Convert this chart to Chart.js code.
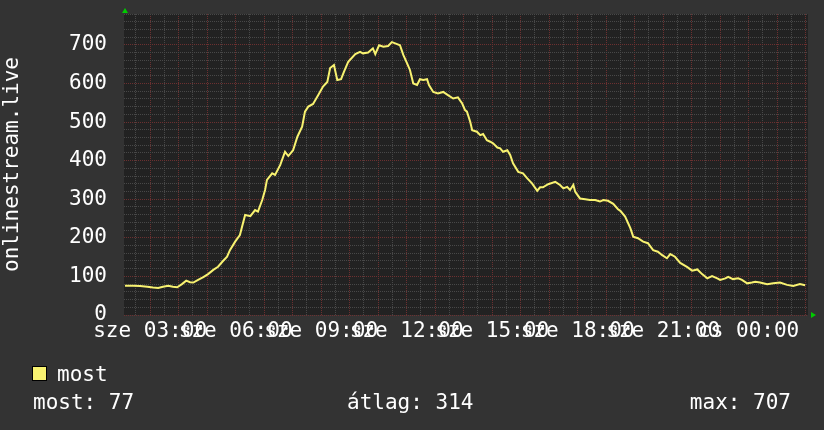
<!DOCTYPE html>
<html>
<head>
<meta charset="utf-8">
<script src="https://cdn.jsdelivr.net/npm/chart.js@4.4.1/dist/chart.umd.min.js"></script>
<style>
  html, body { margin: 0; padding: 0; background: #333333; }
  canvas { display: block; }
</style>
</head>
<body>
<canvas id="c" width="824" height="430"></canvas>
<script>
// Sample times (wall clock, the window runs past midnight) and viewer counts.
var times = [
  '02:07', '02:24', '02:39', '02:54', '03:06', '03:17', '03:27', '03:38', '03:48', '03:57',
  '04:07', '04:16', '04:24', '04:31', '04:41', '04:52', '05:02', '05:13', '05:23', '05:32',
  '05:42', '05:48', '05:59', '06:09', '06:20', '06:31', '06:41', '06:47', '06:56', '07:02',
  '07:06', '07:17', '07:23', '07:34', '07:44', '07:51', '08:01', '08:10', '08:20', '08:26',
  '08:33', '08:43', '08:54', '09:04', '09:13', '09:19', '09:27', '09:34', '09:42', '09:48',
  '09:57', '10:12', '10:22', '10:28', '10:39', '10:49', '10:54', '11:02', '11:11', '11:21',
  '11:29', '11:40', '11:46', '11:53', '12:01', '12:07', '12:14', '12:22', '12:28', '12:35',
  '12:43', '12:47', '12:56', '13:06', '13:17', '13:27', '13:38', '13:48', '13:57', '14:03',
  '14:07', '14:14', '14:18', '14:28', '14:35', '14:41', '14:49', '14:56', '15:02', '15:11',
  '15:17', '15:23', '15:32', '15:38', '15:44', '15:55', '16:05', '16:14', '16:24', '16:35',
  '16:41', '16:47', '16:58', '17:13', '17:23', '17:30', '17:38', '17:44', '17:51', '17:55',
  '18:05', '18:16', '18:26', '18:37', '18:47', '18:54', '19:04', '19:15', '19:25', '19:30',
  '19:40', '19:51', '19:57', '20:07', '20:18', '20:28', '20:39', '20:49', '20:58', '21:08',
  '21:15', '21:25', '21:36', '21:51', '22:01', '22:12', '22:22', '22:33', '22:43', '22:54',
  '23:00', '23:11', '23:17', '23:27', '23:38', '23:46', '23:57', '00:07', '00:14', '00:24',
  '00:39', '00:52', '01:06', '01:21', '01:34', '01:48', '01:59'
];
var viewers = [
  76, 76, 75, 73, 71, 70, 73, 76, 73, 72,
  80, 89, 85, 84, 91, 98, 106, 117, 125, 138,
  151, 168, 190, 207, 259, 256, 272, 268, 298, 324,
  350, 367, 363, 389, 423, 412, 427, 462, 488, 527,
  540, 547, 570, 592, 604, 640, 648, 609, 611, 630,
  656, 676, 682, 678, 680, 691, 676, 699, 695, 697,
  707, 702, 699, 674, 652, 635, 600, 596, 611, 609,
  611, 596, 578, 574, 578, 570, 561, 564, 548, 531,
  527, 500, 479, 475, 466, 469, 453, 449, 445, 434,
  432, 423, 427, 415, 393, 371, 367, 354, 341, 322,
  331, 331, 339, 345, 337, 328, 332, 324, 337, 319,
  302, 300, 298, 298, 294, 298, 296, 288, 274, 270,
  255, 225, 203, 199, 190, 186, 168, 164, 155, 147,
  158, 151, 135, 124, 115, 118, 106, 95, 101, 95,
  91, 95, 99, 93, 95, 91, 82, 84, 86, 84,
  80, 82, 84, 78, 75, 80, 77
];

// x axis labels (hour of the window -> text)
var xLabelHours = [3, 6, 9, 12, 15, 18, 21, 24];
var xLabels = ['sze 03:00', 'sze 06:00', 'sze 09:00', 'sze 12:00', 'sze 15:00', 'sze 18:00', 'sze 21:00', 'cs 00:00'];

// legend rows as printed under the graph
var seriesName = 'most';
var statLabels = ['most: 77', 'átlag: 314', 'max: 707'];

var viewStart = 2 + 5 / 60;
var viewEnd = viewStart + 24;
var yMax = 780;

var FONT = { family: 'DejaVu Sans Mono', size: 21 };
var MAJOR = '#6c3030';
var MINOR = '#484848';
var LINE = '#f8f270';

function toHours(t) {
  var p = t.split(':');
  var h = Number(p[0]) + Number(p[1]) / 60;
  if (h < 2) h += 24;  // after midnight
  return h;
}

var points = times.map(function (t, i) {
  return { x: toHours(t), y: viewers[i] };
});

var plotBg = {
  id: 'plotBg',
  beforeDraw: function (chart) {
    var a = chart.chartArea, ctx = chart.ctx;
    ctx.save();
    ctx.fillStyle = '#222222';
    ctx.fillRect(a.left, a.top, a.right - a.left, a.bottom - a.top);
    ctx.restore();
  }
};

var rrdExtras = {
  id: 'rrdExtras',
  afterDraw: function (chart) {
    var a = chart.chartArea, ctx = chart.ctx;
    ctx.save();
    // axis arrows
    ctx.fillStyle = '#00cc00';
    ctx.beginPath();
    ctx.moveTo(a.left + 1, a.top - 6);
    ctx.lineTo(a.left - 2, a.top - 1);
    ctx.lineTo(a.left + 4, a.top - 1);
    ctx.fill();
    ctx.beginPath();
    ctx.moveTo(a.right + 8, a.bottom);
    ctx.lineTo(a.right + 3, a.bottom - 3);
    ctx.lineTo(a.right + 3, a.bottom + 3);
    ctx.fill();

    // legend
    ctx.font = FONT.size + 'px ' + FONT.family;
    ctx.textBaseline = 'alphabetic';
    ctx.fillStyle = LINE;
    ctx.fillRect(32.5, 366.5, 14, 14);
    ctx.strokeStyle = '#000';
    ctx.lineWidth = 1;
    ctx.strokeRect(32.5, 366.5, 14, 14);
    ctx.fillStyle = '#ffffff';
    ctx.fillText(seriesName, 57, 381);
    ctx.textAlign = 'left';
    ctx.fillText(statLabels[0], 33, 409);
    ctx.fillText(statLabels[1], 347, 409);
    ctx.textAlign = 'right';
    ctx.fillText(statLabels[2], 791, 409);
    ctx.restore();
  }
};

new Chart(document.getElementById('c'), {
  type: 'line',
  data: {
    datasets: [{
      label: seriesName,
      data: points,
      borderColor: LINE,
      borderWidth: 2,
      pointRadius: 0,
      tension: 0,
      fill: false
    }]
  },
  options: {
    responsive: false,
    animation: false,
    devicePixelRatio: 1,
    layout: { padding: { top: 14, right: 16, bottom: 85, left: 0 } },
    plugins: { legend: { display: false }, tooltip: { enabled: false } },
    scales: {
      x: {
        type: 'linear',
        min: viewStart,
        max: viewEnd,
        afterBuildTicks: function (scale) {
          var ticks = [];
          for (var v = 2.5; v <= 26; v += 0.5) ticks.push({ value: v });
          scale.ticks = ticks;
        },
        afterFit: function (scale) {
          scale.height = 30;
          scale.paddingLeft = 0;
          scale.paddingRight = 0;
        },
        ticks: {
          autoSkip: false,
          maxRotation: 0,
          minRotation: 0,
          padding: 4,
          color: '#ffffff',
          font: FONT,
          callback: function (value) {
            var i = xLabelHours.indexOf(value);
            return i === -1 ? '' : xLabels[i];
          }
        },
        grid: {
          drawTicks: false,
          lineWidth: 1,
          color: function (ctx) {
            return ctx.tick && Number.isInteger(ctx.tick.value) ? MAJOR : MINOR;
          }
        },
        border: { display: false, dash: [1, 1] }
      },
      y: {
        min: 0,
        max: yMax,
        afterFit: function (scale) {
          scale.width = 124;
          scale.paddingTop = 0;
          scale.paddingBottom = 0;
        },
        ticks: {
          stepSize: 20,
          autoSkip: false,
          padding: 17,
          color: '#ffffff',
          font: FONT,
          callback: function (value) { return value % 100 === 0 ? String(value) : ''; }
        },
        grid: {
          drawTicks: false,
          lineWidth: 1,
          color: function (ctx) {
            return ctx.tick && ctx.tick.value % 100 === 0 ? MAJOR : MINOR;
          }
        },
        border: { display: false, dash: [1, 1] },
        title: {
          display: true,
          text: 'onlinestream.live',
          color: '#ffffff',
          font: FONT,
          padding: 0
        }
      }
    }
  },
  plugins: [plotBg, rrdExtras]
});
</script>
</body>
</html>
